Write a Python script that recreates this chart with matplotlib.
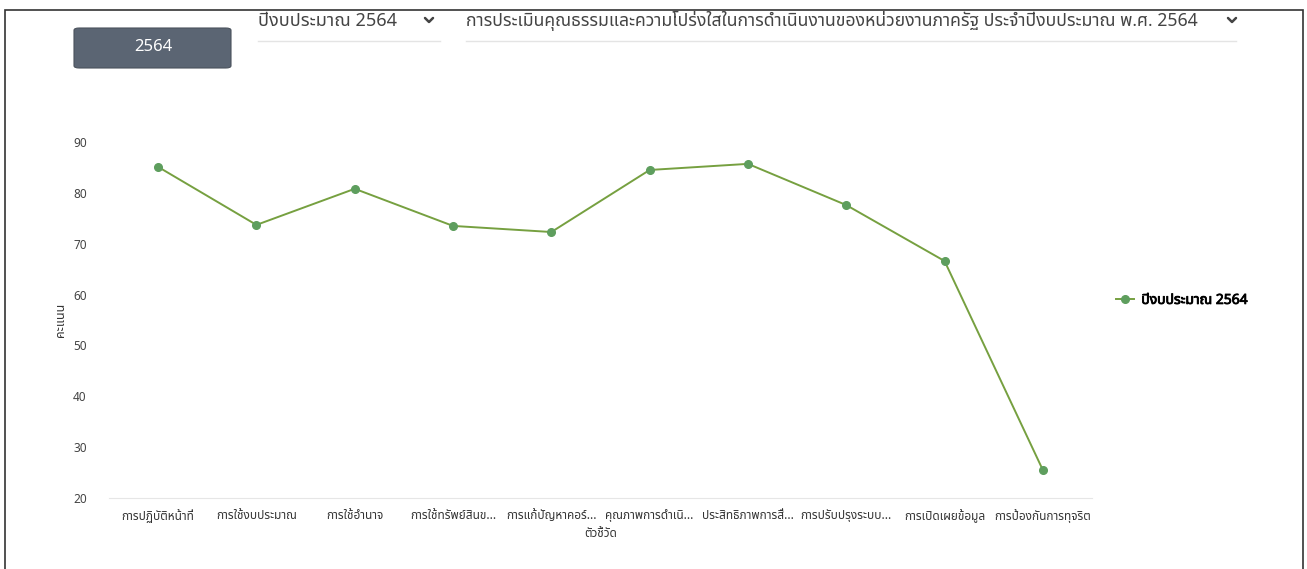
import matplotlib
matplotlib.use("Agg")
import matplotlib.pyplot as plt
import matplotlib.patheffects as pe
from matplotlib import font_manager
from matplotlib.ft2font import FT2Font
from matplotlib.patches import FancyBboxPatch, Rectangle

indicators = [
    "การปฏิบัติหน้าที่",
    "การใช้งบประมาณ",
    "การใช้อำนาจ",
    "การใช้ทรัพย์สินข...",
    "การแก้ปัญหาคอร์...",
    "คุณภาพการดำเนิ...",
    "ประสิทธิภาพการสื่...",
    "การปรับปรุงระบบ...",
    "การเปิดเผยข้อมูล",
    "การป้องกันการทุจริต",
]
scores = [85.1, 73.7, 80.8, 73.5, 72.3, 84.5, 85.7, 77.6, 66.6, 25.5]
y_ticks = [20, 30, 40, 50, 60, 70, 80, 90]
series_name = "ปีงบประมาณ 2564"
year_button = "2564"
dropdown_year = "ปีงบประมาณ 2564"
dropdown_survey = "การประเมินคุณธรรมและความโปร่งใสในการดำเนินงานของหน่วยงานภาครัฐ ประจำปีงบประมาณ พ.ศ. 2564"

W, H = 1307, 569


def find_thai_font():
    # pick an installed font that actually has Thai glyphs
    found = []
    for f in font_manager.fontManager.ttflist:
        try:
            cmap = FT2Font(f.fname).get_charmap()
        except Exception:
            continue
        if 0x0E01 in cmap and 0x0E33 in cmap:
            found.append(f.name)
    for pref in ["Noto Sans Thai", "Noto Sans Thai UI", "Loma", "Garuda", "Tlwg Typo", "Noto Serif Thai"]:
        if pref in found:
            return pref
    return found[0] if found else "DejaVu Sans"


def fx(px):
    return px / W


def fy(py):
    return 1 - py / H


def chevron(xc, yc, color="#444444"):
    # small dropdown arrow, drawn in pixel units
    fig.add_artist(plt.Line2D([fx(xc - 4), fx(xc), fx(xc + 4)], [fy(yc - 2), fy(yc + 2), fy(yc - 2)],
                              color=color, lw=1.8, transform=fig.transFigure,
                              solid_capstyle="round", solid_joinstyle="round"))


thai = find_thai_font()
plt.rcParams["font.family"] = [thai, "DejaVu Sans"]

fig = plt.figure(figsize=(W / 100, H / 100), dpi=100)
ax = fig.add_axes([fx(109), fy(498), fx(1092) - fx(109), fy(142) - fy(498)])

x = list(range(len(indicators)))
ax.plot(x, scores, color="#76a040", lw=1.4, marker="o", ms=5.5,
        mfc="#5e9e5e", mec="#5e9e5e", label=series_name, clip_on=False)

ax.set_xlim(-0.5, len(indicators) - 0.5)
ax.set_ylim(20, 90)
ax.set_yticks(y_ticks)
ax.set_xticks(x)
ax.set_xticklabels(indicators, fontsize=8.5, color="#333333")
ax.tick_params(axis="y", labelsize=8.5, labelcolor="#444444", length=0, pad=16)
ax.tick_params(axis="x", length=0, pad=8)
for s in ["top", "right", "left"]:
    ax.spines[s].set_visible(False)
ax.spines["bottom"].set_color("#e6e6e6")
ax.set_xlabel("ตัวชี้วัด", fontsize=8.5, color="#333333", labelpad=3)
ax.set_ylabel("คะแนน", fontsize=9, color="#333333", labelpad=4)

leg = ax.legend(loc="center left", bbox_to_anchor=(1.012, 0.555), frameon=False,
                prop={"weight": "bold", "size": 10}, handlelength=1.3, handletextpad=0.5)
for t in leg.get_texts():
    t.set_path_effects([pe.withStroke(linewidth=0.6, foreground="black")])

# outer frame
fig.patches.append(Rectangle((fx(5), -0.1), fx(1298), 1.1 - 10 / H,
                             transform=fig.transFigure, fill=False,
                             edgecolor="#333333", lw=1.2))

# year button
fig.patches.append(FancyBboxPatch((fx(74), fy(68)), fx(157), 40 / H,
                                  boxstyle="round,pad=0,rounding_size=0.004",
                                  transform=fig.transFigure, facecolor="#5b6573",
                                  edgecolor="#4a525c", lw=0.8))
fig.text(fx(153), fy(47), year_button, color="white", fontsize=12,
         ha="center", va="center")

# dropdowns
fig.text(fx(258), fy(21), dropdown_year, fontsize=13,
         color="#444444", ha="left", va="center")
chevron(429, 20)
fig.text(fx(466), fy(21), dropdown_survey, fontsize=12.7,
         color="#444444", ha="left", va="center")
chevron(1232, 20)
fig.add_artist(plt.Line2D([fx(258), fx(440)], [fy(41)] * 2,
                          color="#e4e4e4", lw=1, transform=fig.transFigure))
fig.add_artist(plt.Line2D([fx(466), fx(1236)], [fy(41)] * 2,
                          color="#e4e4e4", lw=1, transform=fig.transFigure))

fig.savefig("out.png", dpi=100)
